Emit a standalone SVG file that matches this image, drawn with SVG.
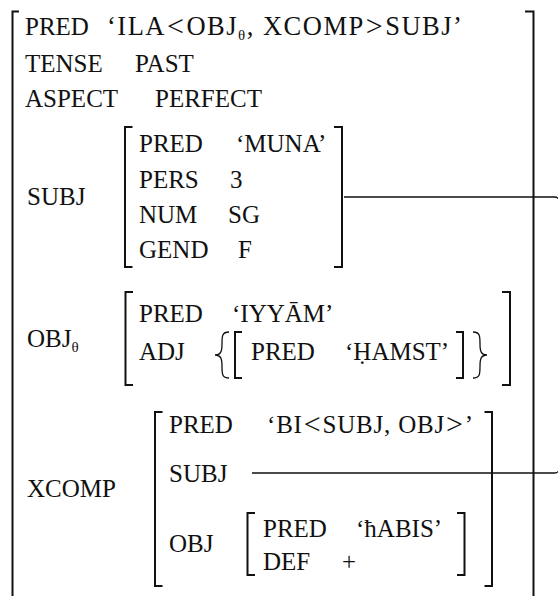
<svg xmlns="http://www.w3.org/2000/svg" width="558" height="596" viewBox="0 0 558 596">
<style>
text{font-family:"Liberation Serif","Times New Roman",serif;font-size:25px;fill:#111}
.sub{font-size:15px}
.rel{font-size:30px}
.big{font-size:26.5px}
.br{fill:none;stroke:#111;stroke-width:2}
.ln{fill:none;stroke:#111;stroke-width:1.3}
</style>
<rect width="558" height="596" fill="#fff"/>
<g id="outer">
<path class="br" d="M19,11.5 H12.5 V600"/>
<path class="br" d="M525,11.5 H533.5 V600"/>
<text x="25" y="35">PRED</text>
<text class="big" x="107" y="35" letter-spacing="1.5">‘ILA<tspan class="rel" dx="1" dy="1">&lt;</tspan><tspan dx="1" dy="-1">OBJ</tspan><tspan class="sub" dy="5">θ</tspan><tspan dy="-5">, XCOMP</tspan><tspan class="rel" dx="1" dy="1">&gt;</tspan><tspan dx="1" dy="-1">SUBJ’</tspan></text>
<text x="25" y="72">TENSE</text>
<text x="135" y="72">PAST</text>
<text x="25" y="107">ASPECT</text>
<text x="155" y="107">PERFECT</text>
<text x="27" y="205">SUBJ</text>
<text x="27" y="347">OBJ<tspan class="sub" dy="5">θ</tspan></text>
<text x="27" y="497">XCOMP</text>
</g>
<g id="subj">
<path class="br" d="M132.5,127 H125 V267 H132.5"/>
<path class="br" d="M334,127 H342 V267 H334"/>
<text x="139" y="152">PRED</text>
<text x="236" y="152">‘MUNA’</text>
<text x="139" y="188">PERS</text>
<text x="230" y="188">3</text>
<text x="139" y="223">NUM</text>
<text x="228" y="223">SG</text>
<text x="139" y="258">GEND</text>
<text x="238" y="258">F</text>
</g>
<g id="objtheta">
<path class="br" d="M133,292 H125.5 V385 H133"/>
<path class="br" d="M502,292 H510 V385 H502"/>
<text x="139" y="322">PRED</text>
<text x="232" y="322">‘IYYĀM’</text>
<text x="139" y="360">ADJ</text>
<path class="ln" d="M229,332 C222,332 222,336 222,344 C222,351 221,355 215,355 C221,355 222,359 222,366 C222,374 222,378 229,378"/>
<path class="br" d="M242,332 H235 V378 H242"/>
<text x="251" y="360">PRED</text>
<text x="345" y="360">‘ḤAMST’</text>
<path class="br" d="M456,332 H463 V378 H456"/>
<path class="ln" d="M473,332 C480,332 480,336 480,344 C480,351 481,355 487,355 C481,355 480,359 480,366 C480,374 480,378 473,378"/>
</g>
<g id="xcomp">
<path class="br" d="M162.5,412 H155 V586 H162.5"/>
<path class="br" d="M484.5,412 H492 V586 H484.5"/>
<text x="169" y="433">PRED</text>
<text x="267" y="433" letter-spacing="0.8">‘BI<tspan class="rel" dx="1" dy="1">&lt;</tspan><tspan dx="1" dy="-1">SUBJ, OBJ</tspan><tspan class="rel" dx="1" dy="1">&gt;</tspan><tspan dx="1" dy="-1">’</tspan></text>
<text x="169" y="482">SUBJ</text>
<text x="169" y="552">OBJ</text>
</g>
<g id="xcomp-obj">
<path class="br" d="M255,513 H247.5 V575 H255"/>
<path class="br" d="M457,513 H464.5 V575 H457"/>
<text x="263" y="537">PRED</text>
<text x="356" y="537">‘ħABIS’</text>
<text x="263" y="570">DEF</text>
<text x="342" y="570">+</text>
</g>
<g id="connectors">
<path class="ln" d="M344,197 H555 A4,4 0 0 1 559,201 V469 A4,4 0 0 1 555,473 H252"/>
</g>
</svg>
